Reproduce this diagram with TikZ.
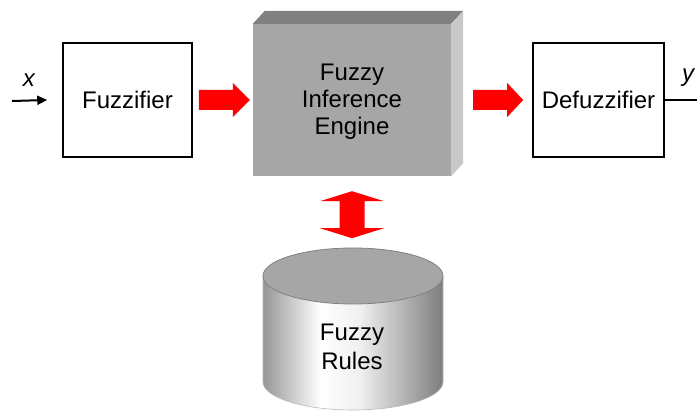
\documentclass[tikz,border=0pt]{standalone}
\usepackage{fontspec}
\setmainfont{Liberation Sans}
\usetikzlibrary{arrows.meta,calc}
\definecolor{frontgray}{RGB}{166,166,166}
\definecolor{topgray}{RGB}{128,128,128}
\definecolor{sidegray}{RGB}{200,200,200}
\definecolor{fatred}{RGB}{255,0,0}
\definecolor{cylleft}{RGB}{150,150,150}
\definecolor{cylright}{RGB}{125,125,125}
% side-lit body of the rule base cylinder
\pgfdeclarehorizontalshading{cylshade}{100bp}{color(0bp)=(cylleft); color(25bp)=(cylleft); color(41bp)=(white); color(52bp)=(white!94!black); color(75bp)=(cylright); color(100bp)=(cylright)}
\begin{document}
\begin{tikzpicture}[x=1pt,y=-1pt,
  lbl/.style={font=\fontsize{24}{27}\selectfont, align=center, inner sep=0pt},
  block/.style={draw=black, line width=1.5pt, fill=white, lbl},
  fatfill/.style={fill=fatred},
  signal/.style={line width=2pt},
  var/.style={font=\fontsize{24}{27}\selectfont\itshape, inner sep=0pt}]
\useasboundingbox (0,0) rectangle (697,412);

% processing blocks
\node[block, minimum width=129pt, minimum height=114pt] (fuzz) at (127.5,100) {Fuzzifier};
\node[block, minimum width=131pt, minimum height=114pt] (defuzz) at (598.5,100) {Defuzzifier};

% inference engine drawn as a box with depth
\node[fill=frontgray, inner sep=0pt, minimum width=198pt, minimum height=152pt] (engine) at (352,100) {};
\fill[topgray] (engine.north west) -- ++(12,-13) -- ($(engine.north east)+(12,-13)$) -- (engine.north east) -- cycle;
\fill[sidegray] (engine.north east) -- ++(12,-13) -- ($(engine.south east)+(12,-13)$) -- (engine.south east) -- cycle;
\node[lbl] (enginetext) at (352,102) {Fuzzy\\Inference\\Engine};

% rule base cylinder
\coordinate (rtop) at (353,248);
\shade[shading=cylshade] (263,276) -- (263,382) arc[start angle=180, end angle=0, x radius=90, y radius=28]
  -- (443,276) arc[start angle=0, end angle=180, x radius=90, y radius=28] -- cycle;
\draw[gray!55, line width=0.6pt] (263,276) -- (263,382) arc[start angle=180, end angle=0, x radius=90, y radius=28] -- (443,276);
\draw[fill=frontgray, draw=topgray, line width=0.8pt] (353,276) ellipse[x radius=90, y radius=28];
\node[lbl, font=\fontsize{24}{29}\selectfont] (rules) at (352,347) {Fuzzy\\Rules};

% input and output signals
\coordinate (xin) at (12,101);
\coordinate (yout) at (697,100);
\draw[signal, -{Triangle[length=10pt,width=9pt]}] (xin) -- ($(fuzz.west)+(-15,0)$);
\node[var] (xl) at (29,80) {x};
\draw[signal] (defuzz.east) -- (yout);
\node[var] (yl) at (688,78) {y};

% block arrows carrying data between the stages
\coordinate (a1) at ($(fuzz.east)+(6,0)$);
\coordinate (a2) at ($(engine.east)+(22,0)$);
\coordinate (a3) at ($(engine.south)+(0,15)$);
\fill[fatfill] (a1) ++(0,-10) -- ++(34,0) -- ++(0,-7) -- ++(17,17) -- ++(-17,17) -- ++(0,-7) -- ++(-34,0) -- cycle;
\fill[fatfill] (a2) ++(0,-10) -- ++(34,0) -- ++(0,-7) -- ++(16,17) -- ++(-16,17) -- ++(0,-7) -- ++(-34,0) -- cycle;
\fill[fatfill] (a3) -- ++(32,10) -- ++(-19.5,0) -- ++(0,27) -- ++(19.5,0) -- ++(-32,10)
  -- ++(-32,-10) -- ++(19.5,0) -- ++(0,-27) -- ++(-19.5,0) -- cycle;
\end{tikzpicture}
\end{document}
